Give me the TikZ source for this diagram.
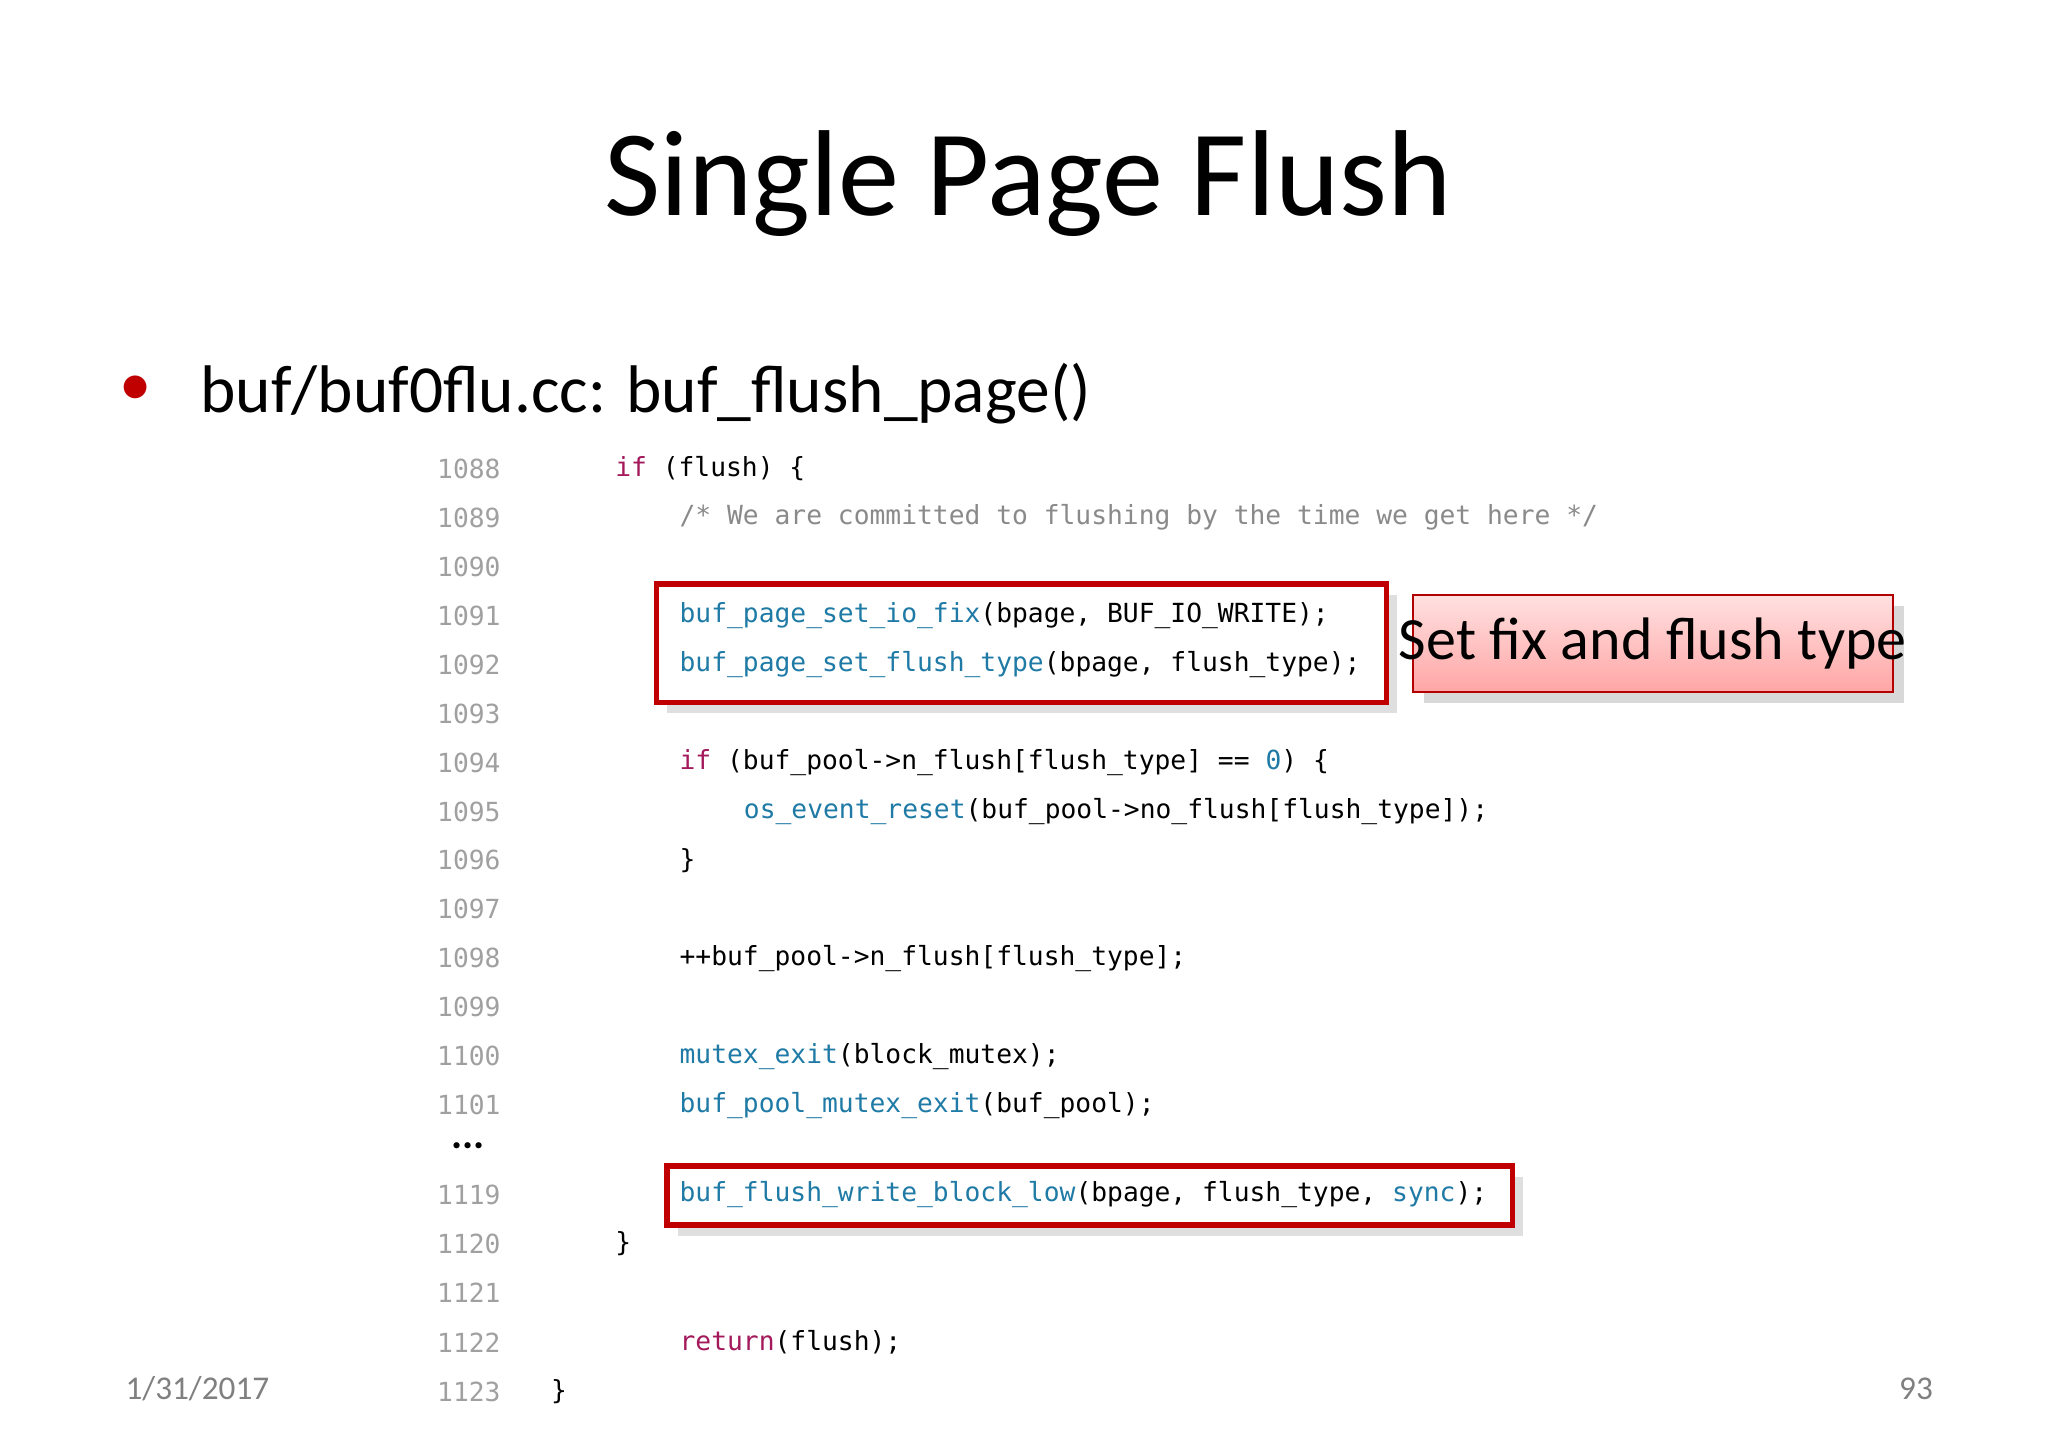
\documentclass[tikz,border=0pt]{standalone}
\usepackage{fontspec}
\setmainfont{Carlito}
\newfontfamily\codefont{DejaVu Sans Mono}
\usepackage{xcolor}
\definecolor{kwcol}{HTML}{A3195B}
\definecolor{fncol}{HTML}{1F7BA6}
\definecolor{cmcol}{HTML}{8A8A8A}
\definecolor{numcol}{HTML}{A0A0A0}
\definecolor{boxred}{HTML}{C00000}
\usetikzlibrary{positioning,shadows}

\newcommand{\kw}[1]{\textcolor{kwcol}{#1}}
\newcommand{\fn}[1]{\textcolor{fncol}{#1}}

\begin{document}
\begin{tikzpicture}[x=0.1mm,y=-0.1mm]
    \tikzstyle{lineno} = [anchor=east, inner sep=0pt, text=numcol, font=\codefont\fontsize{5.7}{6}\selectfont]
    \tikzstyle{code} = [anchor=west, inner sep=0pt, font=\codefont\fontsize{5.7}{6}\selectfont]
    \tikzstyle{hlbox} = [draw=boxred, line width=1.2pt, drop shadow={opacity=0.25}, fill=white]

    \useasboundingbox[fill=white] (0,0) rectangle (1560,1103);

    % Title and bullet
    \node (title) at (783,140) {\fontsize{26.5}{30}\selectfont Single Page Flush};
    \node[text=boxred] (dot) at (103,298) {\fontsize{14}{18}\selectfont\textbullet};
    \node[anchor=west, inner sep=0pt] (bullet) at (152,300) {\fontsize{14.6}{18}\selectfont buf/buf0flu.cc: buf\_flush\_page()};

    % Highlight boxes
    \draw[hlbox] (500,445) rectangle (1056,535);
    \draw[hlbox] (508,888) rectangle (1152,933);

    % Line numbers
    \foreach \n [count=\i from 0] in {1088,...,1101}
        \node[lineno] (n\n) at (382,357+37.3*\i) {\n};
    \node[anchor=west, inner sep=0pt] (dots) at (343,873) {\fontsize{9}{9}\selectfont\textbf{...}};
    \foreach \n [count=\i from 0] in {1119,...,1123}
        \node[lineno] (n\n) at (382,910+37.5*\i) {\n};

    % Code
    \node[code] (c1088) at (468,357) {\kw{if} (flush) \{};
    \node[code, text=cmcol] (c1089) at (517,394.3) {/* We are committed to flushing by the time we get here */};
    \node[code] (c1091) at (517,469) {\fn{buf\_page\_set\_io\_fix}(bpage, BUF\_IO\_WRITE);};
    \node[code] (c1092) at (517,506.2) {\fn{buf\_page\_set\_flush\_type}(bpage, flush\_type);};
    \node[code] (c1094) at (517,580.8) {\kw{if} (buf\_pool->n\_flush[flush\_type] == \fn{0}) \{};
    \node[code] (c1095) at (566,618.1) {\fn{os\_event\_reset}(buf\_pool->no\_flush[flush\_type]);};
    \node[code] (c1096) at (517,655.4) {\}};
    \node[code] (c1098) at (517,730) {++buf\_pool->n\_flush[flush\_type];};
    \node[code] (c1100) at (517,804.6) {\fn{mutex\_exit}(block\_mutex);};
    \node[code] (c1101) at (517,841.9) {\fn{buf\_pool\_mutex\_exit}(buf\_pool);};
    \node[code] (c1119) at (517,910) {\fn{buf\_flush\_write\_block\_low}(bpage, flush\_type, \fn{sync});};
    \node[code] (c1120) at (468,947.5) {\}};
    \node[code] (c1122) at (517,1022.5) {\kw{return}(flush);};
    \node[code] (c1123) at (419,1060) {\}};

    % Callout
    \draw[draw=red!70!black, top color=red!12, bottom color=red!35, drop shadow={opacity=0.3}]
        (1076,453) rectangle (1442,527);
    \node (notetext) at (1259,490) {\fontsize{13}{15}\selectfont Set fix and flush type};

    % Footer
    \node[text=gray, anchor=west, inner sep=0pt] (date) at (95,1058) {\fontsize{7.2}{9}\selectfont 1/31/2017};
    \node[text=gray, anchor=east, inner sep=0pt] (page) at (1473,1058) {\fontsize{7.2}{9}\selectfont 93};
\end{tikzpicture}
\end{document}
